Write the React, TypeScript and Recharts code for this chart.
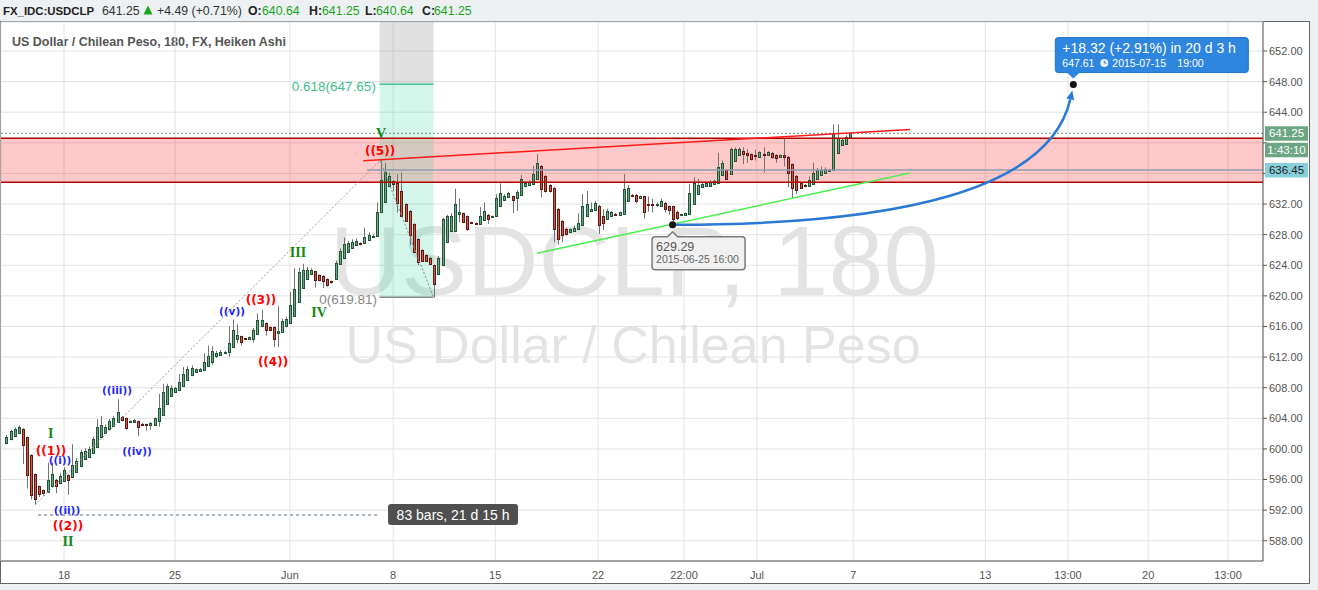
import React from 'react';
import {
  ComposedChart,
  Bar,
  XAxis,
  YAxis,
  CartesianGrid,
  ReferenceLine,
  ReferenceArea,
  ReferenceDot,
} from 'recharts';

// Heiken Ashi candles, USD/CLP 180 min: [open, high, low, close]
const candles: number[][] = [
  [600.8, 601.8, 600.6, 601.6], [601.3, 602.5, 601.1, 602.3], [601.7, 602.8, 601.6, 602.6], [602.1, 603.1, 602.0, 602.9],
  [602.6, 602.7, 598.0, 600.5], [601.5, 601.6, 594.8, 596.6], [599.2, 599.3, 593.4, 594.0], [596.7, 596.8, 592.8, 593.4],
  [595.1, 595.2, 593.7, 594.1], [594.6, 594.7, 593.9, 594.2], [594.4, 598.2, 594.3, 596.0], [595.2, 598.2, 595.1, 596.7],
  [596.0, 596.1, 594.2, 595.1], [595.5, 596.8, 595.4, 596.4], [595.8, 597.6, 595.7, 597.3], [596.6, 596.7, 594.0, 596.0],
  [596.3, 600.6, 596.2, 597.9], [597.0, 598.8, 596.9, 598.4], [597.7, 599.9, 597.6, 599.6], [598.7, 600.1, 598.6, 599.7],
  [599.0, 600.3, 598.9, 600.0], [599.5, 601.6, 599.4, 601.3], [600.3, 603.9, 600.2, 602.8], [601.5, 604.3, 601.4, 603.1],
  [602.1, 603.2, 602.0, 602.9], [602.6, 603.9, 602.5, 603.6], [603.0, 604.3, 602.9, 604.0], [603.5, 606.5, 603.4, 604.8],
  [604.2, 604.3, 603.6, 603.8], [604.0, 604.1, 602.5, 602.7], [603.5, 603.7, 603.4, 603.6], [603.5, 603.9, 603.4, 603.8],
  [603.6, 603.7, 601.7, 602.8], [603.3, 603.4, 603.1, 603.2], [603.2, 603.3, 602.4, 603.1],
  [603.1, 603.5, 602.5, 603.35], [603.1, 604.1, 603.0, 604.0], [603.6, 607.2, 602.9, 605.4], [604.4, 608.5, 604.3, 607.5],
  [605.9, 608.5, 605.8, 608.2], [606.9, 608.3, 606.8, 608.0], [607.5, 608.1, 607.4, 607.9], [607.7, 609.8, 607.6, 608.8],
  [608.2, 610.7, 608.1, 609.8], [609.0, 610.8, 608.9, 610.5], [609.6, 610.9, 609.5, 610.6], [610.1, 610.5, 610.0, 610.4],
  [610.2, 610.6, 610.1, 610.5], [610.3, 612.5, 610.2, 611.4], [610.8, 613.5, 610.7, 612.2], [611.4, 613.4, 611.0, 612.8],
  [612.1, 612.8, 611.9, 612.5], [612.3, 612.9, 612.2, 612.7], [612.5, 612.8, 612.4, 612.7], [612.6, 616.0, 612.0, 613.9],
  [613.3, 616.9, 613.2, 615.6], [614.4, 616.3, 613.8, 614.9], [614.7, 614.8, 613.5, 614.0], [614.45, 614.5, 614.3, 614.35],
  [614.4, 614.7, 614.3, 614.6], [614.4, 615.8, 613.9, 615.6], [615.0, 617.7, 614.9, 616.9], [616.0, 618.2, 615.9, 616.8],
  [616.4, 616.5, 614.8, 615.5], [615.9, 616.0, 615.4, 615.6], [615.9, 616.0, 613.3, 614.4], [615.1, 618.7, 613.3, 615.4],
  [615.3, 617.0, 615.2, 616.7], [616.0, 617.3, 615.9, 617.0], [616.5, 620.5, 616.4, 618.8], [617.4, 623.6, 617.3, 620.9],
  [619.2, 623.7, 619.1, 623.1],
  [621.0, 624.2, 620.9, 623.4], [622.2, 623.8, 622.1, 623.4], [622.8, 623.6, 622.7, 623.4], [623.2, 623.3, 621.1, 622.1],
  [622.7, 622.8, 621.9, 622.1], [622.6, 622.7, 621.0, 621.9], [622.2, 622.3, 621.2, 621.4], [621.9, 622.0, 621.6, 621.8],
  [622.2, 624.6, 622.1, 624.3], [624.2, 626.2, 624.1, 625.8], [625.0, 627.6, 624.9, 626.8], [625.7, 627.2, 625.6, 626.9],
  [626.3, 627.4, 626.2, 627.1], [626.7, 627.5, 626.6, 627.2], [626.9, 627.0, 626.6, 626.8], [626.9, 628.9, 626.8, 627.7],
  [627.3, 628.3, 627.2, 628.0], [627.7, 628.0, 627.6, 627.8], [627.8, 632.2, 627.7, 630.9], [630.9, 637.7, 630.8, 635.1],
  [632.3, 637.4, 632.2, 636.2], [634.3, 636.1, 634.2, 635.7], [635.0, 635.1, 633.7, 634.6], [634.8, 635.9, 630.9, 632.2],
  [633.7, 636.1, 630.3, 630.4], [632.0, 632.1, 629.7, 629.8], [631.1, 631.2, 626.6, 627.9], [629.4, 629.5, 625.6, 625.7],
  [627.4, 627.5, 624.0, 624.4], [626.0, 626.1, 624.5, 624.6], [625.3, 625.4, 624.5, 624.6], [625.0, 625.1, 624.1, 624.2],
  [624.0, 624.1, 619.81, 621.5], [622.8, 625.2, 622.7, 625.0],
  [624.0, 630.2, 623.9, 630.0], [627.0, 630.6, 626.9, 630.4], [628.5, 630.8, 628.4, 630.5], [628.5, 634.0, 628.4, 632.0],
  [630.7, 632.7, 629.6, 630.9], [630.8, 630.9, 629.5, 629.7], [630.4, 630.5, 628.5, 628.7], [629.6, 629.7, 629.4, 629.5],
  [629.55, 629.6, 629.4, 629.45], [629.4, 631.6, 629.3, 630.4], [629.9, 632.2, 629.8, 631.1], [630.6, 630.7, 629.4, 630.1],
  [630.3, 630.5, 630.2, 630.4], [630.4, 633.3, 630.3, 632.8], [631.7, 634.7, 631.6, 633.4], [632.5, 633.3, 632.4, 633.1],
  [632.9, 633.6, 632.8, 633.4], [633.0, 633.1, 630.8, 632.5], [632.8, 633.8, 631.1, 633.6], [633.2, 635.8, 633.1, 635.3],
  [634.3, 635.0, 634.2, 634.8], [634.5, 635.1, 634.4, 634.9], [634.6, 637.0, 634.5, 635.9], [635.3, 638.5, 635.2, 637.4],
  [637.0, 637.1, 632.9, 634.0], [635.7, 635.8, 633.5, 633.7], [634.5, 634.6, 633.5, 633.7], [634.1, 634.2, 627.0, 628.7],
  [631.4, 631.5, 626.7, 627.4], [629.8, 629.9, 627.0, 627.9], [628.8, 628.9, 627.9, 628.1], [628.4, 628.8, 628.3, 628.7],
  [628.5, 629.2, 628.4, 628.9], [628.7, 630.8, 628.6, 629.5], [629.2, 633.3, 629.1, 631.8], [630.4, 633.7, 630.3, 632.0],
  [631.1, 632.2, 631.0, 631.4], [631.2, 632.4, 631.1, 632.2], [631.8, 631.9, 628.1, 629.2],
  [630.5, 631.3, 628.6, 629.5], [630.1, 631.4, 630.0, 631.1], [630.5, 631.1, 630.4, 630.9], [630.7, 630.8, 630.5, 630.6],
  [630.6, 631.0, 630.5, 630.9], [630.7, 635.9, 630.6, 634.0], [632.4, 634.5, 632.3, 634.1], [633.2, 633.3, 632.9, 633.0],
  [633.2, 633.3, 632.1, 632.4], [632.8, 633.1, 632.7, 633.0], [633.0, 633.1, 630.1, 630.9], [632.0, 633.0, 631.0, 631.9],
  [631.95, 632.7, 630.9, 631.85], [631.85, 632.2, 631.6, 631.95], [631.8, 632.7, 631.7, 632.4], [632.2, 632.3, 630.9, 631.4],
  [631.7, 631.8, 630.6, 631.2], [631.7, 631.8, 629.29, 630.0], [631.0, 631.1, 629.9, 630.2], [630.55, 630.75, 630.5, 630.7],
  [630.6, 630.9, 630.5, 630.8], [630.7, 634.6, 630.6, 633.4], [632.0, 635.5, 631.9, 634.7], [633.3, 635.3, 633.2, 634.5],
  [634.2, 634.8, 634.1, 634.6], [634.3, 634.9, 634.2, 634.7], [634.4, 635.1, 634.3, 634.9], [634.6, 635.2, 634.5, 635.0],
  [634.7, 638.7, 634.6, 636.8], [635.8, 637.7, 635.7, 637.4], [636.5, 636.6, 635.2, 635.3], [635.9, 639.4, 635.8, 639.2],
  [637.6, 639.4, 637.5, 639.2], [638.4, 639.4, 638.3, 639.2], [638.9, 639.4, 637.2, 638.6], [638.7, 639.2, 637.4, 638.4],
  [638.5, 638.6, 637.7, 637.9], [638.35, 639.1, 637.7, 638.25], [638.2, 638.9, 638.1, 638.8], [638.6, 639.4, 636.1, 638.4],
  [638.4, 638.9, 638.3, 638.8], [638.7, 638.8, 637.9, 638.2], [638.4, 638.5, 637.4, 638.0], [638.2, 638.5, 638.1, 638.4],
  [638.4, 640.5, 636.9, 638.2], [638.2, 638.3, 634.2, 636.1], [637.2, 637.3, 632.8, 634.1], [635.7, 635.8, 633.3, 633.8],
  [634.7, 634.8, 634.0, 634.1], [634.5, 634.6, 634.2, 634.3], [634.3, 635.6, 634.2, 635.1], [634.6, 637.4, 634.5, 636.1],
  [635.3, 636.7, 635.2, 636.4], [635.8, 636.9, 635.7, 636.5], [636.1, 636.8, 636.0, 636.6], [636.3, 636.6, 636.2, 636.45],
  [636.4, 642.4, 636.3, 641.1], [638.7, 642.4, 638.6, 640.6], [639.7, 640.6, 639.6, 640.4], [639.9, 641.0, 639.8, 640.8],
  [640.64, 641.25, 640.64, 641.25],
];

// date axis (bar index positions incl. the projected future) and labels
const dateTickPos = [14.1, 41.1, 69.0, 94.1, 118.9, 143.9, 164.8, 182.5, 205.9, 238.0, 258.1, 277.6, 297.0];
const dateTickLabels = ['18', '25', 'Jun', '8', '15', '22', '22:00', 'Jul', '7', '13', '13:00', '20', '13:00'];
const priceTicks = [588, 592, 596, 600, 604, 608, 612, 616, 620, 624, 628, 632, 636, 640, 644, 648, 652];

const lastPrice = 641.25;
const prevClose = 636.45;
const countdown = '1:43:10';
const zoneLow = 634.85;
const zoneHigh = 640.6;

// Fibonacci retracement drawing
const fibStart = 90.8;
const fibEnd = 103.9;
const fibZero = 619.81;
const fibLevel = 647.65;

// trend lines [index, price]
const redTrend = [[86.85, 637.66], [219.7, 641.74]];
const greenTrend = [[129.0, 625.56], [219.7, 636.06]];
const waveUp = [[7.05, 592.67], [90.9, 637.7]];
const waveDown = [[90.9, 637.7], [103.9, 619.81]];

// bars-range measure
const measureLine = [[7.8, 591.36], [90.9, 591.36]];
const measureText = '83 bars, 21 d 15 h';

// projection arrow
const projFrom = { i: 162, p: 629.29, date: '2015-06-25 16:00' };
const projTo = { i: 259.4, p: 647.61, date: '2015-07-15', time: '19:00' };
const projText = '+18.32 (+2.91%) in 20 d 3 h';

// Elliott wave labels
const waveLabels = [
  { i: 10.87, p: 602.08, t: 'I', kind: 'major' },
  { i: 10.94, p: 599.73, t: '((1))', kind: 'red' },
  { i: 13.13, p: 598.55, t: '((i))', kind: 'blue' },
  { i: 14.83, p: 592.02, t: '((ii))', kind: 'blue' },
  { i: 15.07, p: 589.92, t: '((2))', kind: 'red' },
  { i: 15.07, p: 587.96, t: 'II', kind: 'major' },
  { i: 26.98, p: 607.7, t: '((iii))', kind: 'blue' },
  { i: 31.84, p: 599.73, t: '((iv))', kind: 'blue' },
  { i: 54.93, p: 618.02, t: '((v))', kind: 'blue' },
  { i: 61.98, p: 619.46, t: '((3))', kind: 'red' },
  { i: 64.9, p: 611.36, t: '((4))', kind: 'red' },
  { i: 70.98, p: 625.73, t: 'III', kind: 'major' },
  { i: 76.08, p: 617.89, t: 'IV', kind: 'major' },
  { i: 91.15, p: 641.28, t: 'V', kind: 'major' },
  { i: 90.91, p: 638.93, t: '((5))', kind: 'red' },
];

const X_DOMAIN: [number, number] = [-1.215, 305.5];
const Y_DOMAIN: [number, number] = [585.35, 655.79];

const data = candles.map(([o, h, l, c], i) => ({ i, o, h, l, c, range: [l, h] }));

const SANS = 'Liberation Sans, Arial, sans-serif';
const UP = '#6ba583';
const DOWN = '#d75442';

const CandleShape = (props: any) => {
  const { x, y, width, height, payload } = props;
  if (!payload || height == null) return null;
  const { o, h, l, c } = payload;
  const k = height / (h - l);
  const px = Math.round(x + width / 2);
  const yo = y + (h - o) * k;
  const yc = y + (h - c) * k;
  const up = c >= o;
  const top = Math.round(Math.min(yo, yc));
  const bot = Math.max(Math.round(Math.max(yo, yc)), top + 1);
  return (
    <g>
      <line x1={px + 0.5} x2={px + 0.5} y1={y} y2={y + height} stroke="#737375" strokeWidth={1} />
      <rect
        x={px - 0.5}
        y={top + 0.5}
        width={2}
        height={bot - top}
        fill={up ? UP : DOWN}
        stroke={up ? '#225437' : '#5b1a13'}
        strokeWidth={1}
      />
    </g>
  );
};

const labelStyle: Record<string, any> = {
  major: { fill: '#118811', fontFamily: 'Liberation Serif, serif', fontSize: 14, fontWeight: 'bold' },
  red: { fill: '#ff0000', fontFamily: 'DejaVu Sans, sans-serif', fontSize: 12, fontWeight: 'bold' },
  blue: { fill: '#1f1fff', fontFamily: 'DejaVu Sans, sans-serif', fontSize: 10.5, fontWeight: 'bold' },
};

const textShape = (text: string, style: any, anchor = 'middle') => (p: any) => (
  <text x={p.cx} y={p.cy} dy="0.35em" textAnchor={anchor} {...style}>
    {text}
  </text>
);

// curved projection arrow between the two segment points
const ArcShape = (p: any) => {
  const { x1, y1, x2, y2 } = p;
  const dx = x2 - x1;
  const dy = y1 - y2;
  const c1x = x1 + 0.57 * dx;
  const c2x = x1 + 0.94 * dx;
  const c2y = y1 - 0.25 * dy;
  const ex = x2 - 1;
  const ey = y2 + 6;
  const tx = ex - c2x;
  const ty = ey - c2y;
  const len = Math.sqrt(tx * tx + ty * ty);
  const ux = tx / len;
  const uy = ty / len;
  const bx = ex - ux * 9;
  const by = ey - uy * 9;
  return (
    <g>
      <path d={`M${x1},${y1} C${c1x},${y1} ${c2x},${c2y} ${bx},${by}`} fill="none" stroke="#2a7ad5" strokeWidth={2.5} />
      <path d={`M${ex},${ey} L${bx - uy * 4},${by + ux * 4} L${bx + uy * 4},${by - ux * 4} Z`} fill="#2a7ad5" />
      <circle cx={x1} cy={y1} r={3.5} fill="#111" />
    </g>
  );
};

const StartBox = (p: any) => {
  const { cx, cy } = p;
  const bx = cx - 20.5;
  const by = cy + 12;
  return (
    <g>
      <path
        d={`M${bx},${by + 3} Q${bx},${by} ${bx + 3},${by} L${cx - 5},${by} L${cx},${by - 5} L${cx + 5},${by} L${bx + 90},${by} Q${bx + 93},${by} ${bx + 93},${by + 3} L${bx + 93},${by + 30} Q${bx + 93},${by + 33} ${bx + 90},${by + 33} L${bx + 3},${by + 33} Q${bx},${by + 33} ${bx},${by + 30} Z`}
        fill="#f1f1f1"
        stroke="#7a7a7a"
        strokeWidth={1.5}
      />
      <text x={bx + 4} y={cy + 26} fontSize={12.5} fill="#555" fontFamily={SANS}>
        {projFrom.p.toFixed(2)}
      </text>
      <text x={bx + 4} y={cy + 38} fontSize={10.5} fill="#666" fontFamily={SANS}>
        {projFrom.date}
      </text>
    </g>
  );
};

const TargetBox = (p: any) => {
  const { cx, cy } = p;
  const bx = cx - 18;
  const by = cy - 47;
  return (
    <g>
      <rect x={bx} y={by} width={193} height={35} rx={3} fill="#2f86de" stroke="#1f70c4" strokeWidth={1} />
      <path d={`M${cx - 7},${by + 34.5} L${cx},${by + 41} L${cx + 7},${by + 34.5} Z`} fill="#2f86de" />
      <text x={bx + 7} y={by + 15} fontSize={14} fill="#fff" fontFamily={SANS}>
        {projText}
      </text>
      <text x={bx + 7} y={by + 29} fontSize={10.5} fill="#fff" fontFamily={SANS}>
        {projTo.p.toFixed(2)}
      </text>
      <circle cx={bx + 49} cy={by + 25.5} r={4} fill="#e8f1fb" />
      <path d={`M${bx + 49},${by + 23} L${bx + 49},${by + 25.5} L${bx + 51},${by + 25.5}`} stroke="#2f86de" strokeWidth={1} fill="none" />
      <text x={bx + 57} y={by + 29} fontSize={10.5} fill="#fff" fontFamily={SANS}>
        {projTo.date}
      </text>
      <text x={bx + 122} y={by + 29} fontSize={10.5} fill="#fff" fontFamily={SANS}>
        {projTo.time}
      </text>
      <circle cx={cx} cy={cy} r={3.5} fill="#111" />
    </g>
  );
};

const MeasureBox = (p: any) => {
  const { cx, cy } = p;
  return (
    <g>
      <rect x={cx - 65} y={cy - 11} width={130} height={21} rx={3} fill="#4f4f4f" />
      <text x={cx} y={cy} dy="0.35em" textAnchor="middle" fontSize={14} fill="#fff" fontFamily={SANS}>
        {measureText}
      </text>
    </g>
  );
};

const axisTag = (lines: { text: string; bg: string; fg: string }[]) => (p: any) => (
  <g>
    {lines.map((ln, k) => (
      <g key={k}>
        <rect x={p.cx + 2} y={p.cy - 7 + k * 16.5} width={43} height={14.5} fill={ln.bg} />
        <text
          x={p.cx + 23.5}
          y={p.cy + k * 16.5}
          dy="0.35em"
          textAnchor="middle"
          fontSize={11.5}
          fill={ln.fg}
          fontFamily={SANS}
        >
          {ln.text}
        </text>
      </g>
    ))}
  </g>
);

// price labels hidden behind the last-price / previous-close tags
const hiddenTick = (v: number) =>
  (v > lastPrice - 3.4 && v < lastPrice + 1) || (v > prevClose - 1 && v < prevClose + 1);

const seg = (pts: number[][]) => pts.map(([x, y]) => ({ x, y }));

const headerItems = [
  { l: 3, t: 'FX_IDC:USDCLP', b: true, c: '#222', s: 11.4 },
  { l: 102, t: '641.25', c: '#333' },
  { l: 157, t: '+4.49 (+0.71%)', c: '#333' },
  { l: 248, t: 'O:', b: true, c: '#222' },
  { l: 262, t: '640.64', c: '#1ca51c' },
  { l: 309, t: 'H:', b: true, c: '#222' },
  { l: 322, t: '641.25', c: '#1ca51c' },
  { l: 365, t: 'L:', b: true, c: '#222' },
  { l: 376, t: '640.64', c: '#1ca51c' },
  { l: 422, t: 'C:', b: true, c: '#222' },
  { l: 434, t: '641.25', c: '#1ca51c' },
];

export default function App() {
  return (
    <div style={{ position: 'absolute', left: 0, top: 0, width: 1318, height: 590, background: '#eef1f4', overflow: 'hidden' }}>
      {headerItems.map((h, k) => (
        <span
          key={k}
          style={{
            position: 'absolute',
            left: h.l,
            top: 4,
            fontFamily: SANS,
            fontSize: h.s ?? 12.3,
            fontWeight: h.b ? 'bold' : 'normal',
            color: h.c,
            lineHeight: '14px',
            whiteSpace: 'nowrap',
          }}
        >
          {h.t}
        </span>
      ))}
      <svg width={10} height={10} style={{ position: 'absolute', left: 143, top: 5 }}>
        <path d="M5 0.5 L9.5 9.5 L0.5 9.5 Z" fill="#1ca51c" />
      </svg>
      <div
        style={{
          position: 'absolute',
          left: 0,
          top: 21,
          width: 1310,
          height: 563,
          boxSizing: 'border-box',
          border: '1px solid #666',
          background: '#fff',
        }}
      />
      <svg width={1310} height={586} style={{ position: 'absolute', left: 0, top: 0 }}>
        <text x={634} y={295} textAnchor="middle" fontFamily={SANS} fontSize={99} fill="#000" fillOpacity={0.11}>
          USDCLP, 180
        </text>
        <text x={633} y={363} textAnchor="middle" fontFamily={SANS} fontSize={52} fill="#000" fillOpacity={0.11}>
          US Dollar / Chilean Peso
        </text>
      </svg>
      <div
        style={{
          position: 'absolute',
          left: 12,
          top: 35,
          fontFamily: SANS,
          fontSize: 12.5,
          fontWeight: 'bold',
          color: '#555',
          whiteSpace: 'nowrap',
        }}
      >
        US Dollar / Chilean Peso, 180, FX, Heiken Ashi
      </div>
      <div style={{ position: 'absolute', left: 0, top: 0 }}>
        <ComposedChart width={1310} height={586} data={data} margin={{ top: 22, right: 0, bottom: 0, left: 1 }}>
          <CartesianGrid stroke="#e3e3e3" />
          <XAxis
            dataKey="i"
            type="number"
            domain={X_DOMAIN}
            allowDataOverflow
            ticks={dateTickPos}
            interval={0}
            tickFormatter={(v: number) => dateTickLabels[dateTickPos.indexOf(v)] ?? ''}
            height={25}
            axisLine={{ stroke: '#555' }}
            tickLine={false}
            tickMargin={4}
            tick={{ fill: '#555', fontSize: 11, fontFamily: SANS }}
          />
          <YAxis
            orientation="right"
            type="number"
            domain={Y_DOMAIN}
            allowDataOverflow
            ticks={priceTicks}
            interval={0}
            tickFormatter={(v: number) => (hiddenTick(v) ? '' : v.toFixed(2))}
            width={47}
            axisLine={{ stroke: '#555' }}
            tickLine={{ stroke: '#555' }}
            tickSize={4}
            tickMargin={2}
            tick={{ fill: '#555', fontSize: 11, fontFamily: SANS, textAnchor: 'start' }}
          />
          <ReferenceArea y1={zoneLow} y2={zoneHigh} fill="#ff0000" fillOpacity={0.21} stroke="none" />
          <ReferenceLine y={zoneHigh} stroke="#b00000" strokeWidth={1.5} />
          <ReferenceLine y={zoneLow} stroke="#b00000" strokeWidth={1.5} />
          <ReferenceArea x1={fibStart} x2={fibEnd} y1={fibZero} y2={fibLevel} fill="#2bd19a" fillOpacity={0.2} stroke="none" />
          <ReferenceArea x1={fibStart} x2={fibEnd} y1={fibLevel} y2={Y_DOMAIN[1]} fill="#999" fillOpacity={0.3} stroke="none" />
          <ReferenceLine segment={seg([[fibStart, fibLevel], [fibEnd, fibLevel]])} stroke="#45c894" strokeWidth={1.5} />
          <ReferenceLine segment={seg([[fibStart, fibZero], [fibEnd, fibZero]])} stroke="#888" strokeWidth={1.5} />
          <ReferenceLine segment={seg([[87.75, prevClose], [X_DOMAIN[1], prevClose]])} stroke="#8c9dad" strokeWidth={1.5} />
          <ReferenceLine y={lastPrice} stroke="#5b8f70" strokeDasharray="2 2" />
          <ReferenceLine segment={seg(waveUp)} stroke="#9a9a9a" strokeDasharray="2 2" />
          <ReferenceLine segment={seg(waveDown)} stroke="#8a8a8a" strokeDasharray="2 2" />
          <ReferenceLine segment={seg(measureLine)} stroke="#4f6a86" strokeDasharray="3 3" />
          <ReferenceLine segment={seg(redTrend)} stroke="#ff1a1a" strokeWidth={1.5} />
          <ReferenceLine segment={seg(greenTrend)} stroke="#4cf04c" strokeWidth={1.5} />
          <Bar dataKey="range" barSize={3} shape={CandleShape} isAnimationActive={false} />
          <ReferenceLine
            segment={[{ x: projFrom.i, y: projFrom.p }, { x: projTo.i, y: projTo.p }]}
            shape={ArcShape}
          />
          <ReferenceDot x={projFrom.i} y={projFrom.p} shape={StartBox} />
          <ReferenceDot x={projTo.i} y={projTo.p} shape={TargetBox} />
          <ReferenceDot x={108.65} y={591.36} shape={MeasureBox} />
          <ReferenceDot x={89.9} y={647.4} shape={textShape(`0.618(${fibLevel.toFixed(2)})`, { fill: '#3fbf8c', fontSize: 13.5, fontFamily: SANS }, 'end')} />
          <ReferenceDot x={90.2} y={619.6} shape={textShape(`0(${fibZero.toFixed(2)})`, { fill: '#888', fontSize: 13.5, fontFamily: SANS }, 'end')} />
          {waveLabels.map((w, k) => (
            <ReferenceDot key={k} x={w.i} y={w.p} ifOverflow="visible" shape={textShape(w.t, labelStyle[w.kind])} />
          ))}
          <ReferenceDot
            x={X_DOMAIN[1]}
            y={lastPrice}
            ifOverflow="visible"
            shape={axisTag([
              { text: lastPrice.toFixed(2), bg: UP, fg: '#fff' },
              { text: countdown, bg: UP, fg: '#fff' },
            ])}
          />
          <ReferenceDot
            x={X_DOMAIN[1]}
            y={prevClose}
            ifOverflow="visible"
            shape={axisTag([{ text: prevClose.toFixed(2), bg: '#88cfdc', fg: '#222' }])}
          />
        </ComposedChart>
      </div>
    </div>
  );
}
